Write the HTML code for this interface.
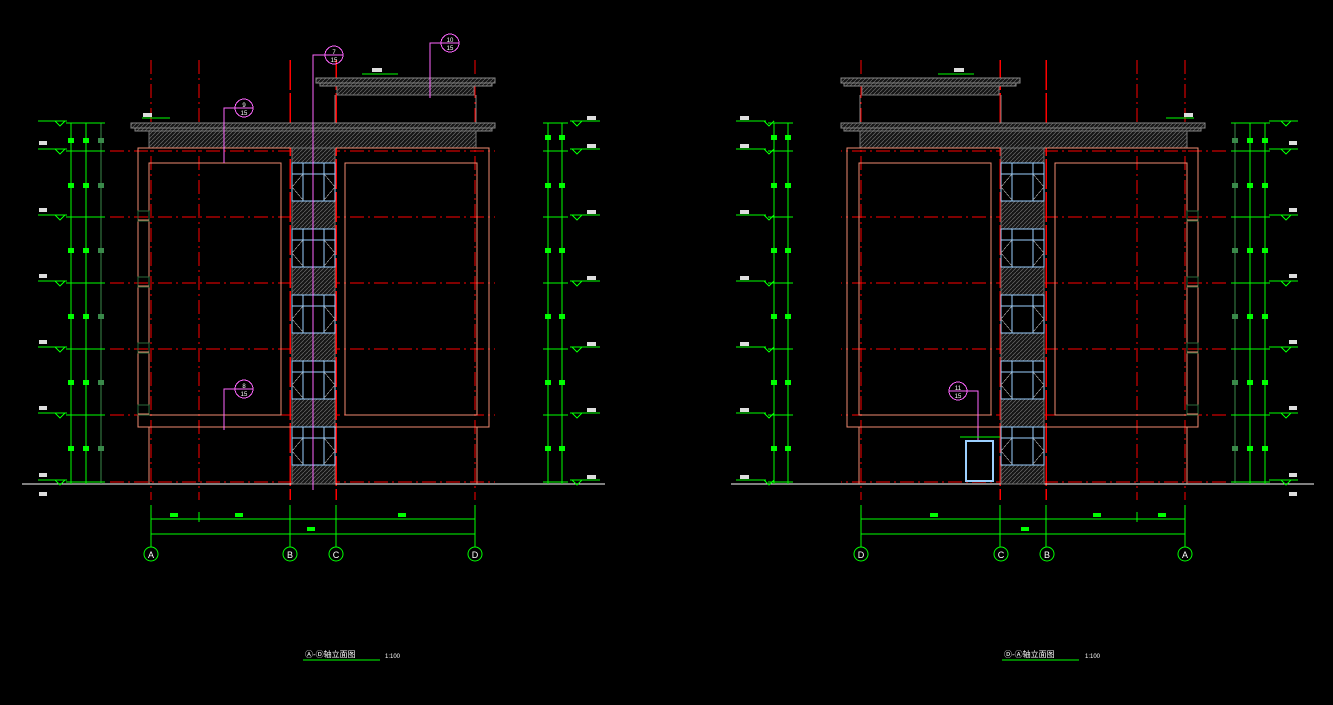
<!DOCTYPE html>
<html><head><meta charset="utf-8"><style>
html,body{margin:0;padding:0;background:#000;width:1333px;height:705px;overflow:hidden}
svg{display:block}
text{font-family:"Liberation Sans","Noto Sans CJK SC",sans-serif}
#L,#R{shape-rendering:crispEdges}
</style></head><body>
<svg id="s" width="1333" height="705" viewBox="0 0 1333 705" xmlns="http://www.w3.org/2000/svg">
<defs>
<pattern id="h" width="4" height="4" patternUnits="userSpaceOnUse"><rect width="4" height="4" fill="#151515"/><path d="M0 4L4 0" stroke="#6a6a6a" stroke-width="0.7"/></pattern>
</defs>
<g id="L"></g><g id="R"></g>
<g font-size="9" fill="#fff" text-anchor="middle">
<circle cx="151" cy="554" r="7" fill="none" stroke="#0f0"/><text x="151" y="558">A</text>
<circle cx="290" cy="554" r="7" fill="none" stroke="#0f0"/><text x="290" y="558">B</text>
<circle cx="336" cy="554" r="7" fill="none" stroke="#0f0"/><text x="336" y="558">C</text>
<circle cx="475" cy="554" r="7" fill="none" stroke="#0f0"/><text x="475" y="558">D</text>
<circle cx="861" cy="554" r="7" fill="none" stroke="#0f0"/><text x="861" y="558">D</text>
<circle cx="1001" cy="554" r="7" fill="none" stroke="#0f0"/><text x="1001" y="558">C</text>
<circle cx="1047" cy="554" r="7" fill="none" stroke="#0f0"/><text x="1047" y="558">B</text>
<circle cx="1185" cy="554" r="7" fill="none" stroke="#0f0"/><text x="1185" y="558">A</text>
</g>
<g font-size="6" fill="#fff" text-anchor="middle">
<text x="334" y="54">7</text><text x="334" y="62">15</text>
<text x="450" y="42">10</text><text x="450" y="50">15</text>
<text x="244" y="107">9</text><text x="244" y="115">15</text>
<text x="244" y="388">8</text><text x="244" y="396">15</text>
<text x="958" y="390">11</text><text x="958" y="398">15</text>
</g>
<g font-size="8" fill="#fff">
<text x="305" y="657">Ⓐ-Ⓓ轴立面图</text><text x="385" y="658" font-size="6">1:100</text>
<line x1="303" y1="660" x2="380" y2="660" stroke="#0f0"/>
<text x="1004" y="657">Ⓓ-Ⓐ轴立面图</text><text x="1085" y="658" font-size="6">1:100</text>
<line x1="1002" y1="660" x2="1079" y2="660" stroke="#0f0"/>
</g>
</svg>
<script>
var NS="http://www.w3.org/2000/svg";
function el(g,t,a){var e=document.createElementNS(NS,t);for(var k in a)e.setAttribute(k,a[k]);g.appendChild(e);return e;}
function draw(gid,m){
 var g=document.getElementById(gid);
 var X=function(x){return m?1336-x:x;};
 function ln(x1,y1,x2,y2,c,w,d){var a={x1:X(x1),y1:y1,x2:X(x2),y2:y2,stroke:c,"stroke-width":w||1};if(d)a["stroke-dasharray"]=d;el(g,"line",a);}
 function rc(x1,y1,x2,y2,f,s){var a=Math.min(X(x1),X(x2)),b=Math.max(X(x1),X(x2));el(g,"rect",{x:a,y:y1,width:b-a,height:y2-y1,fill:f||"none",stroke:s||"none","stroke-width":1});}
 var lv=[151,217,283,349,415,482];
 lv.forEach(function(y){ln(110,y,495,y,"#f00",1,"14 4 2 4");});
 [151,199,475].forEach(function(x){ln(x,60,x,500,"#f00",1,"14 4 2 4");});
 [290,336].forEach(function(x){ln(x,60,x,500,"#f00",1.5,"30 3");});
 ln(22,484,605,484,"#fff",1);
 rc(131,123,495,128,"url(#h)","#888");rc(135,128,492,131,"url(#h)","#888");
 rc(149,131,476,148,"url(#h)","#777");
 rc(316,78,495,83,"url(#h)","#888");rc(320,83,492,86,"url(#h)","#888");
 rc(337,86,474,95,"url(#h)","#777");
 ln(335,95,335,123,"#888");ln(476,95,476,123,"#888");
 var sc="#f08a70";
 rc(138,148,489,427,null,sc);rc(149,163,281,415,null,sc);rc(345,163,477,415,null,sc);
 ln(149,427,149,484,sc);ln(477,427,477,484,sc);
 rc(292,148,335,484,"url(#h)","#777");
 [163,229,295,361,427].forEach(function(y){
  rc(292,y,335,y+38,"#000","#9cd0ff");
  ln(292,y+11,335,y+11,"#9cd0ff");ln(303,y,303,y+38,"#9cd0ff");ln(324,y,324,y+38,"#9cd0ff");
  ln(292,y+24,303,y+11,"#aaa",0.6);ln(292,y+24,303,y+37,"#aaa",0.6);ln(335,y+24,324,y+11,"#aaa",0.6);ln(335,y+24,324,y+37,"#aaa",0.6);
 });
 [215,281,347,409].forEach(function(y){rc(138,y-4,149,y+6,null,"#2a6a3a");ln(138,y+5,149,y+5,sc);});
 var G="#0f0",DG="#3a8a4a";
 ln(71,123,71,484,G);ln(86,123,86,484,G);ln(101,123,101,484,DG);
 [123,151,217,283,349,415,482].forEach(function(y){ln(66,y,105,y,G);});
 [123,151,217,283,349,415,482].forEach(function(y){ln(38,y-2,67,y-2,G);el(g,"path",{d:"M"+X(55)+" "+(y-2)+"l5 5l5 -5",fill:"none",stroke:G});});
 [140,185,250,316,382,448].forEach(function(y){rc(68,y-2,74,y+3,G);rc(83,y-2,89,y+3,G);rc(98,y-2,104,y+3,DG);});
 [145,212,278,344,410,477,496].forEach(function(y){rc(39,y-4,47,y,"#ddd");});
 ln(548,123,548,484,G);ln(562,123,562,484,G);
 [123,151,217,283,349,415,482].forEach(function(y){ln(543,y,568,y,G);ln(570,y-2,600,y-2,G);el(g,"path",{d:"M"+X(572)+" "+(y-2)+"l5 5l5 -5",fill:"none",stroke:G});rc(587,y-7,596,y-3,"#ddd");});
 [137,185,250,316,382,448].forEach(function(y){rc(545,y-2,551,y+3,G);rc(559,y-2,565,y+3,G);});
 ln(151,519,475,519,G);ln(151,534,475,534,G);
 [151,290,336,475].forEach(function(x){ln(x,505,x,547,G);});ln(199,512,199,522,G);
 rc(170,513,178,517,G);rc(235,513,243,517,G);rc(398,513,406,517,G);rc(307,527,315,531,G);
 ln(362,74,398,74,G);rc(372,68,382,72,"#ddd");
 ln(142,118,170,118,G);rc(143,113,152,117,"#ddd");
}
draw("L",false);draw("R",true);
var L=document.getElementById("L");
function mg(g,cx,cy,lx1,ly1,lx2,ly2){el(g,"circle",{cx:cx,cy:cy,r:9,fill:"none",stroke:"#f6f"});el(g,"line",{x1:cx-9,y1:cy,x2:cx+9,y2:cy,stroke:"#f6f"});el(g,"polyline",{points:(cx-9)+","+cy+" "+lx1+","+ly1+" "+lx2+","+ly2,fill:"none",stroke:"#f6f"});}
mg(L,334,55,313,55,313,490);mg(L,244,108,224,108,224,163);mg(L,244,389,224,389,224,430);mg(L,450,43,430,43,430,98);
var R=document.getElementById("R");
mg(R,958,391,978,391,978,440);
el(R,"rect",{x:966,y:441,width:27,height:40,fill:"none",stroke:"#9cd0ff","stroke-width":2});
el(R,"line",{x1:960,y1:437,x2:1000,y2:437,stroke:"#0f0"});
</script>
</body></html>
